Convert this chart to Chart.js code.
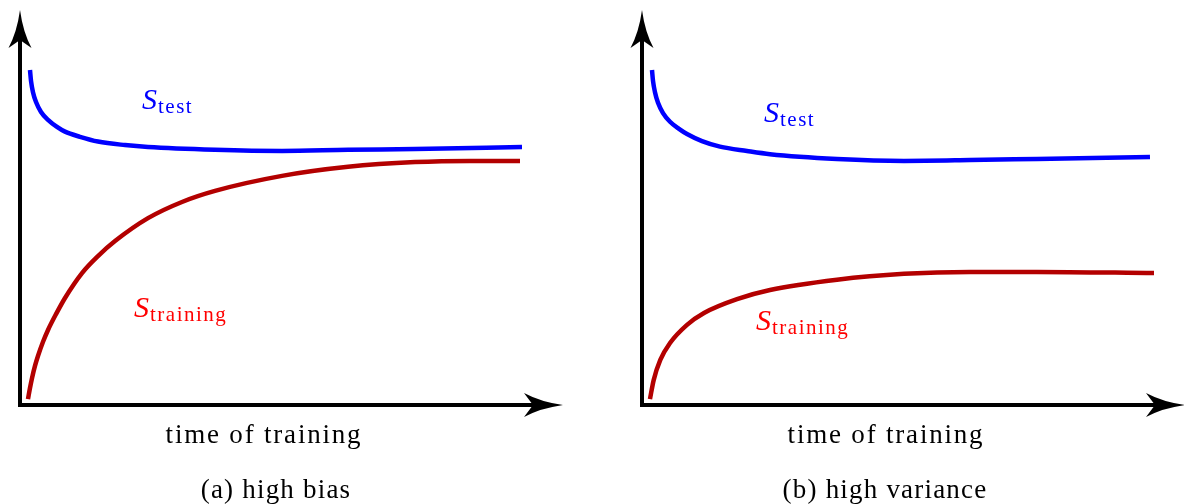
<!DOCTYPE html>
<html>
<head>
<meta charset="utf-8">
<script src="https://cdn.jsdelivr.net/npm/chart.js@4.4.1/dist/chart.umd.min.js"></script>
<style>
  html, body { margin: 0; padding: 0; background: #fff; overflow: hidden; }
  body { width: 1184px; height: 504px; position: relative; }
  .panel { position: absolute; top: 0; width: 570px; height: 504px; }
  #wrapA { left: 0; }
  #wrapB { left: 622px; }
</style>
</head>
<body>
<div class="panel" id="wrapA"><canvas id="chartA"></canvas></div>
<div class="panel" id="wrapB"><canvas id="chartB"></canvas></div>
<script>
// time of training (0..100) vs score (0..100)

// (a) high bias
let testTimeA  = [1.84, 2.03, 2.39, 2.95, 3.87, 5.16, 6.81, 8.29, 11.05, 14.36, 19.34, 23.57, 35.91, 48.25, 60.41, 72.74, 92.45];
let testScoreA = [84.8, 82.0, 79.2, 76.7, 74.2, 72.2, 70.4, 69.2, 67.9, 66.7, 65.8, 65.3, 64.6, 64.3, 64.6, 64.8, 65.3];
let trainTimeA  = [1.47, 1.84, 2.21, 2.76, 3.31, 4.24, 5.16, 6.63, 8.29, 11.42, 14.36, 17.50, 23.57, 29.83, 35.91, 48.25, 60.41, 72.74, 82.87, 92.08];
let trainScoreA = [1.5, 4.3, 6.8, 9.9, 12.4, 16.0, 19.0, 23.0, 27.1, 33.4, 37.7, 41.5, 47.3, 51.4, 54.2, 58.0, 60.3, 61.5, 61.8, 61.8];

// (b) high variance
let testTimeB  = [1.84, 2.03, 2.39, 2.95, 3.87, 5.16, 6.81, 8.29, 11.05, 14.36, 19.34, 23.57, 35.91, 48.25, 60.41, 72.74, 93.55];
let testScoreB = [84.8, 82.0, 79.2, 76.5, 73.9, 71.7, 69.9, 68.6, 66.8, 65.4, 64.3, 63.5, 62.3, 61.8, 62.0, 62.3, 62.8];
let trainTimeB  = [1.47, 2.15, 3.37, 5.16, 8.29, 11.42, 17.50, 23.57, 35.91, 48.25, 60.41, 72.74, 94.29];
let trainScoreB = [1.5, 6.3, 11.4, 15.7, 20.3, 23.3, 26.8, 29.1, 31.7, 33.2, 33.7, 33.7, 33.4];

let xLabel = "time of training";
let captions = ["(a) high bias", "(b) high variance"];

function pts(xs, ys) {
	let out = [];
	for (let i = 0; i < xs.length; i++) {
		out.push({x: xs[i], y: ys[i]});
	}
	return out;
}

// draws the two arrows, the curve labels and the texts under the plot
const arrowAxes = {
	id: "arrowAxes",
	beforeDatasetsDraw(chart) {
		const ctx = chart.ctx;
		const a = chart.chartArea;
		const x0 = chart.scales.x.getPixelForValue(0);
		const y0 = chart.scales.y.getPixelForValue(0);
		ctx.save();
		ctx.strokeStyle = "#000";
		ctx.fillStyle = "#000";
		ctx.lineWidth = 4;
		ctx.lineCap = "butt";
		// y axis
		ctx.beginPath();
		ctx.moveTo(x0, y0 + 2);
		ctx.lineTo(x0, a.top + 30);
		ctx.stroke();
		ctx.beginPath();
		ctx.moveTo(x0, a.top);
		ctx.quadraticCurveTo(x0 - 3, a.top + 22, x0 - 11.5, a.top + 38);
		ctx.lineTo(x0, a.top + 30);
		ctx.lineTo(x0 + 11.5, a.top + 38);
		ctx.quadraticCurveTo(x0 + 3, a.top + 22, x0, a.top);
		ctx.fill();
		// x axis
		ctx.beginPath();
		ctx.moveTo(x0 - 2, y0);
		ctx.lineTo(a.right - 30, y0);
		ctx.stroke();
		ctx.beginPath();
		ctx.moveTo(a.right, y0);
		ctx.quadraticCurveTo(a.right - 22, y0 - 3, a.right - 39, y0 - 12);
		ctx.lineTo(a.right - 30, y0);
		ctx.lineTo(a.right - 39, y0 + 12);
		ctx.quadraticCurveTo(a.right - 22, y0 + 3, a.right, y0);
		ctx.fill();
		ctx.restore();
	},
	afterDraw(chart, args, opts) {
		const ctx = chart.ctx;
		ctx.save();
		ctx.textBaseline = "alphabetic";
		opts.labels.forEach(l => {
			ctx.fillStyle = l.color;
			ctx.textAlign = "left";
			ctx.font = "italic 30px 'Liberation Serif'";
			ctx.fillText("S", l.x, l.y);
			const w = ctx.measureText("S").width;
			ctx.font = "21px 'Liberation Serif'";
			ctx.letterSpacing = "1.5px";
			ctx.fillText(l.sub, l.x + w + 1, l.y + 3.5);
			ctx.letterSpacing = "0px";
		});
		ctx.fillStyle = "#000";
		ctx.textAlign = "center";
		ctx.font = "27px 'Liberation Serif'";
		ctx.letterSpacing = "1.8px";
		ctx.fillText(xLabel, 264, 443);
		ctx.letterSpacing = "1.2px";
		ctx.fillText(opts.caption, opts.captionX, 498);
		ctx.restore();
	}
};

function makeChart(id, testT, testS, trainT, trainS, caption, captionX, labels) {
	return new Chart(document.getElementById(id), {
		type: "line",
		data: {
			datasets: [{
				label: "S_test",
				data: pts(testT, testS),
				borderColor: "#0000ff",
				borderWidth: 4.5,
				pointRadius: 0,
				cubicInterpolationMode: "monotone",
				fill: false
			}, {
				label: "S_training",
				data: pts(trainT, trainS),
				borderColor: "#b30000",
				borderWidth: 4.5,
				pointRadius: 0,
				cubicInterpolationMode: "monotone",
				fill: false
			}]
		},
		options: {
			responsive: true,
			maintainAspectRatio: false,
			animation: false,
			layout: { padding: { left: 20, right: 7, top: 10, bottom: 99 } },
			scales: {
				x: { type: "linear", min: 0, max: 100, display: false },
				y: { type: "linear", min: 0, max: 100, display: false }
			},
			plugins: {
				legend: { display: false },
				tooltip: { enabled: false },
				arrowAxes: { caption: caption, captionX: captionX, labels: labels }
			}
		},
		plugins: [arrowAxes]
	});
}

makeChart("chartA", testTimeA, testScoreA, trainTimeA, trainScoreA, captions[0], 276, [
	{ sub: "test", color: "#0000ff", x: 142, y: 109 },
	{ sub: "training", color: "#ff0000", x: 134, y: 317 }
]);
makeChart("chartB", testTimeB, testScoreB, trainTimeB, trainScoreB, captions[1], 263, [
	{ sub: "test", color: "#0000ff", x: 142, y: 122 },
	{ sub: "training", color: "#ff0000", x: 134, y: 330 }
]);
</script>
</body>
</html>
